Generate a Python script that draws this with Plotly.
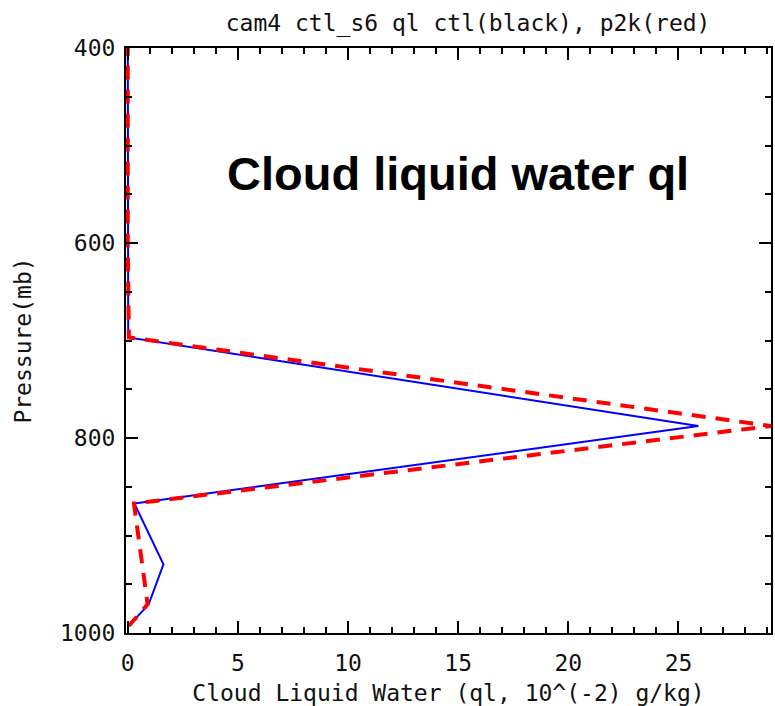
import plotly.graph_objects as go

# CAM4 hybrid mid-level pressures (mb) below ~350 mb
pressure = [368.8, 433.9, 510.5, 600.5, 696.8, 787.7, 867.2, 929.6, 970.6, 992.6]
# cloud liquid water, 10^-2 g/kg
ql_ctl = [0.0, 0.0, 0.0, 0.0, 0.02, 25.9, 0.30, 1.62, 0.95, 0.05]
ql_p2k = [0.0, 0.0, 0.0, 0.0, 0.05, 29.2, 0.28, 0.65, 0.90, 0.05]

x_ticks = [0, 5, 10, 15, 20, 25]
y_ticks = [400, 600, 800, 1000]

hershey = dict(family="DejaVu Sans Mono", size=23, color="#111111")

fig = go.Figure()
fig.add_trace(go.Scatter(
    x=ql_ctl, y=pressure, mode="lines", name="ctl",
    line=dict(color="#0000ff", width=2),
))
fig.add_trace(go.Scatter(
    x=ql_p2k, y=pressure, mode="lines", name="p2k",
    line=dict(color="#ff0000", width=4, dash="14px,10px"),
))

axis_common = dict(
    showline=True, linecolor="black", linewidth=2, mirror="allticks",
    ticks="inside", ticklen=12, tickwidth=1.5, tickcolor="black",
    showgrid=False, zeroline=False, tickfont=hershey,
)

fig.update_xaxes(
    range=[-0.08, 29.2], tickvals=x_ticks, ticklabelstandoff=8,
    minor=dict(dtick=1, tick0=0, ticks="inside", ticklen=6, tickwidth=1.5,
               tickcolor="black", showgrid=False),
    title=dict(text="Cloud Liquid Water (ql, 10^(-2) g/kg)", font=hershey, standoff=12),
    **axis_common,
)
fig.update_yaxes(
    range=[1000, 400], tickvals=y_ticks, ticklabelstandoff=4,
    minor=dict(dtick=50, tick0=400, ticks="inside", ticklen=6, tickwidth=1.5,
               tickcolor="black", showgrid=False),
    title=dict(text="Pressure(mb)", font=hershey, standoff=22),
    **axis_common,
)

fig.add_annotation(
    x=0.515, y=0.835, xref="paper", yref="paper", showarrow=False,
    text="<b>Cloud liquid water ql</b>",
    font=dict(family="Liberation Sans", size=47, color="black"),
)

fig.update_layout(
    width=775, height=706,
    margin=dict(l=126, r=2, t=48, b=73),
    paper_bgcolor="white", plot_bgcolor="white",
    showlegend=False,
    title=dict(text="cam4 ctl_s6 ql ctl(black), p2k(red)", font=hershey,
               x=0.604, xanchor="center", y=0.968, yanchor="middle"),
)

fig.write_html("out.html")
